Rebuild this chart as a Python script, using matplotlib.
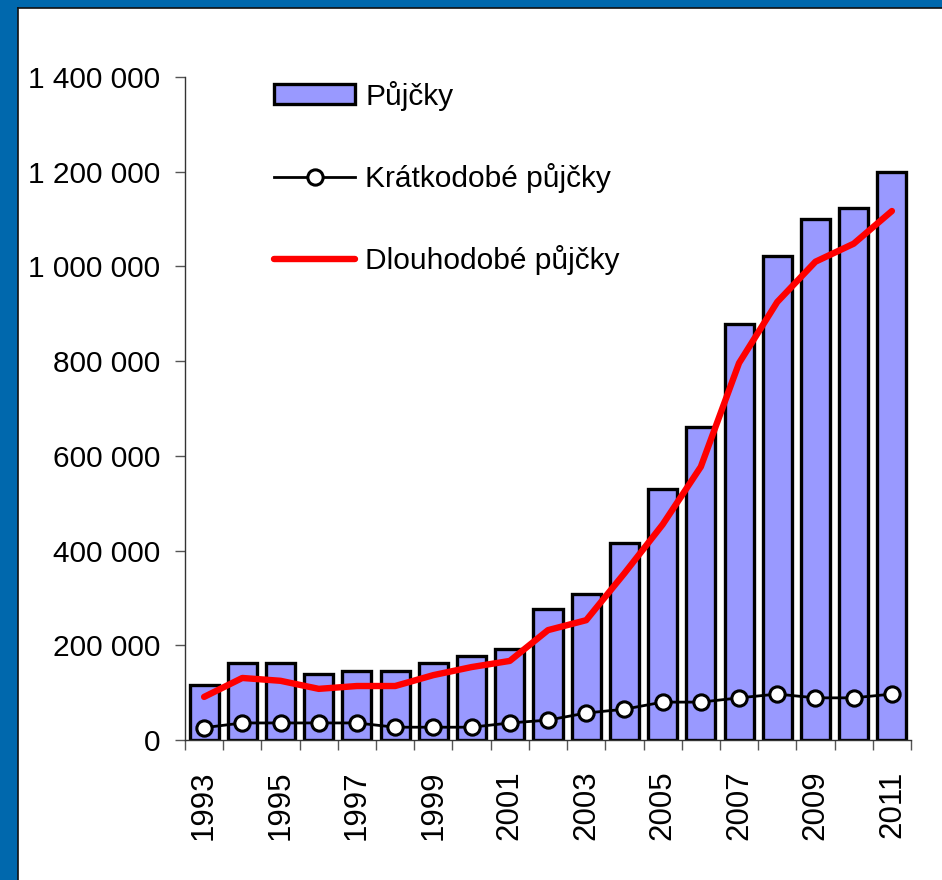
import matplotlib.pyplot as plt
import numpy as np
from matplotlib.lines import Line2D
from matplotlib.patches import Patch, Rectangle

plt.rcParams["font.family"] = ["Liberation Sans", "DejaVu Sans"]

years = list(range(1993, 2012))
pujcky = [116, 162, 162, 139, 146, 146, 162, 177, 192, 277, 308, 416, 530,
          661, 878, 1022, 1100, 1123, 1200]
kratkodobe = [26, 36, 36, 36, 36, 27, 27, 27, 36, 42, 57, 65, 80,
              80, 89, 97, 89, 89, 97]
dlouhodobe = [91, 131, 125, 108, 114, 114, 137, 154, 167, 232, 253, 352, 455,
              577, 796, 925, 1010, 1048, 1117]

pujcky = np.array(pujcky) * 1000
kratkodobe = np.array(kratkodobe) * 1000
dlouhodobe = np.array(dlouhodobe) * 1000

W, H = 942, 880
fig = plt.figure(figsize=(W / 100, H / 100), dpi=100)

# blue frame on the left and top
fig.patches.append(Rectangle((0, 0), 18 / W, 1, transform=fig.transFigure,
                             facecolor="#0068AD", edgecolor="none", zorder=0))
fig.patches.append(Rectangle((0, 1 - 8 / H), 1, 8 / H, transform=fig.transFigure,
                             facecolor="#0068AD", edgecolor="none", zorder=0))
fig.add_artist(Line2D([18 / W, 18 / W], [0, 1 - 8 / H], color="#111111", lw=1.2))
fig.add_artist(Line2D([18 / W, 1], [1 - 8 / H, 1 - 8 / H], color="#111111", lw=1.2))

ax = fig.add_axes([185 / W, 1 - 740 / H, (911 - 185) / W, (740 - 77) / H])
x = np.arange(len(years))

ax.bar(x, pujcky, width=0.76, color="#9999FF", edgecolor="black",
       linewidth=2.4, zorder=2)
ax.plot(x, dlouhodobe, color="#FF0000", lw=4.6, solid_capstyle="round",
        solid_joinstyle="round", zorder=3)
ax.plot(x, kratkodobe, color="black", lw=2.0, marker="o", markersize=11,
        markerfacecolor="white", markeredgecolor="black", markeredgewidth=2.2,
        zorder=4)

ax.set_xlim(-0.5, len(years) - 0.5)
ax.set_ylim(0, 1400000)

ax.spines["top"].set_visible(False)
ax.spines["right"].set_visible(False)
ax.spines["left"].set_color("#333333")
ax.spines["bottom"].set_color("#333333")
ax.spines["left"].set_linewidth(1.0)
ax.spines["bottom"].set_linewidth(1.0)

yt = np.arange(0, 1400001, 200000)
ax.set_yticks(yt)
ax.set_yticklabels([f"{v:,}".replace(",", " ") for v in yt])
ax.tick_params(axis="y", length=7, width=1, color="#555555", pad=11,
               labelsize=21.5)

ax.set_xticks(x)
ax.set_xticklabels([str(y) if i % 2 == 0 else "" for i, y in enumerate(years)],
                   rotation=90)
ax.tick_params(axis="x", which="major", length=0, pad=22, labelsize=22.5)
ax.set_xticks(np.arange(-0.5, len(years)), minor=True)
ax.tick_params(axis="x", which="minor", length=7, width=1, color="#555555")

handles = [
    Patch(facecolor="#9999FF", edgecolor="black", linewidth=2.4),
    Line2D([], [], color="black", lw=2.0, marker="o", markersize=11,
           markerfacecolor="white", markeredgecolor="black", markeredgewidth=2.2),
    Line2D([], [], color="#FF0000", lw=4.6, solid_capstyle="round"),
]
labels = ["Půjčky", "Krátkodobé půjčky", "Dlouhodobé půjčky"]
ax.legend(handles, labels, loc="upper left", bbox_to_anchor=(0.086, 1.035),
          frameon=False, fontsize=21.5, handlelength=2.7, handleheight=0.62,
          handletextpad=0.35, labelspacing=1.75)

fig.savefig("out.png", dpi=100, facecolor="white")
